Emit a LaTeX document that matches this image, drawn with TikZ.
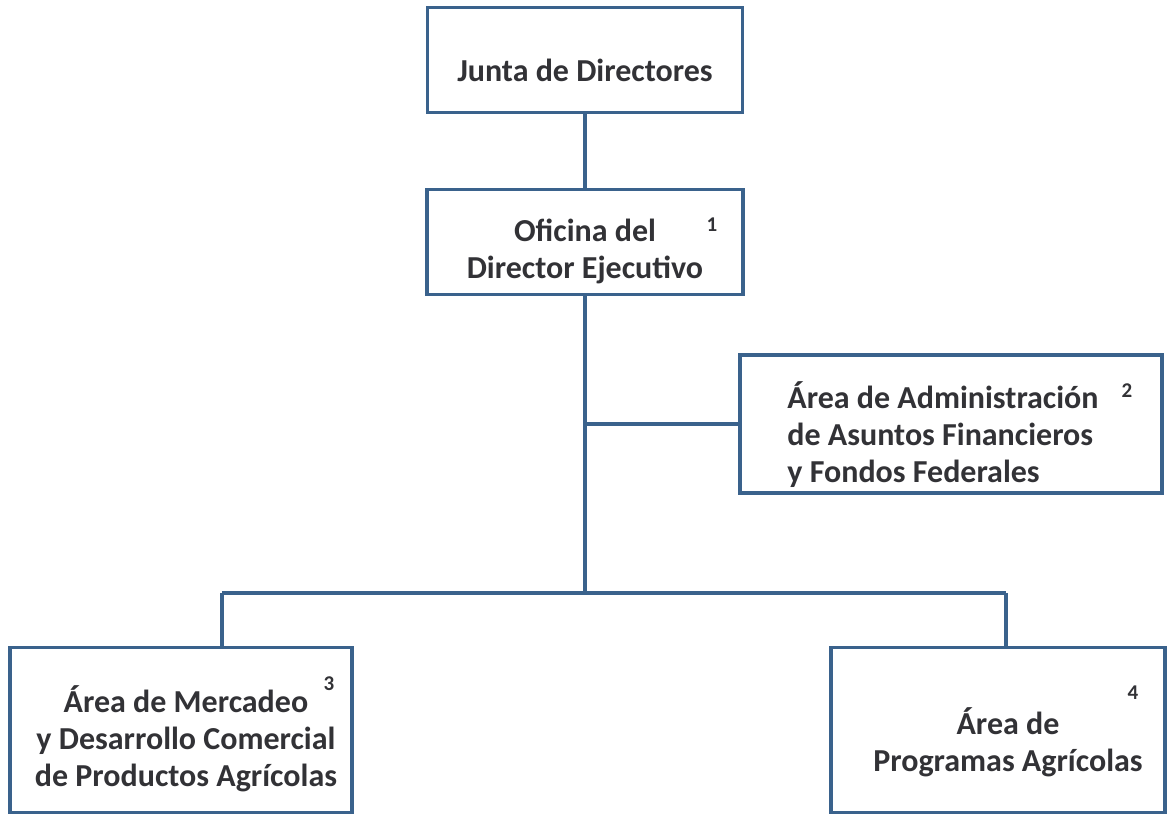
\documentclass[tikz,border=0pt]{standalone}
\usepackage{fontspec}
\setmainfont{Carlito}
\definecolor{linkblue}{RGB}{58,98,140}
\definecolor{darktext}{RGB}{50,50,54}
\begin{document}
\begin{tikzpicture}[x=1pt,y=-1pt,inner sep=0pt,outer sep=0pt,
orgbox/.style={draw=linkblue,rectangle,line width=3.4pt},
orgtext/.style={text=darktext,font=\bfseries\fontsize{32}{37}\selectfont,align=center},
orgnum/.style={text=darktext,font=\bfseries\fontsize{21}{21}\selectfont},
link/.style={draw=linkblue,line width=3.2pt}]
\useasboundingbox (0,0) rectangle (1169,815);
% cajas
\draw (585,60) node[orgbox,minimum width=315pt,minimum height=105pt] (junta) {};
\draw (585,242) node[orgbox,minimum width=316pt,minimum height=105pt] (oficina) {};
\draw (951,424) node[orgbox,minimum width=422pt,minimum height=138pt] (admin) {};
\draw (181,730) node[orgbox,minimum width=342pt,minimum height=165pt] (mercadeo) {};
\draw (998,730) node[orgbox,minimum width=334pt,minimum height=165pt] (programas) {};
% textos
\node[orgtext] (juntatxt) at ([yshift=-10pt]junta.center) {Junta de Directores};
\node[orgtext] (oficinatxt) at ([yshift=-9pt]oficina.center) {Oficina del\\Director Ejecutivo};
\node[orgtext,align=left] (admintxt) at ([xshift=-8pt,yshift=-11pt]admin.center) {Área de Administración\\de Asuntos Financieros\\y Fondos Federales};
\node[orgtext] (mercadeotxt) at ([xshift=5pt,yshift=-9pt]mercadeo.center) {Área de Mercadeo\\y Desarrollo Comercial\\de Productos Agrícolas};
\node[orgtext] (programastxt) at ([xshift=10pt,yshift=-12pt]programas.center) {Área de\\Programas Agrícolas};
\node[orgnum] (num1) at (712,225) {1};
\node[orgnum] (num2) at (1127,391) {2};
\node[orgnum] (num3) at (329,684) {3};
\node[orgnum] (num4) at (1133,693) {4};
% conectores
\coordinate (bl) at (222,593);
\coordinate (br) at (1006,593);
\draw[link] (junta.south) -- (oficina.north);
\draw[link] (oficina.south) -- (oficina.south |- bl);
\draw[link] (admin.west) -| (oficina.south);
\draw[link] (bl) -- (br);
\draw[link] (bl) -- (bl |- mercadeo.north);
\draw[link] (br) -- (br |- programas.north);
\end{tikzpicture}
\end{document}
